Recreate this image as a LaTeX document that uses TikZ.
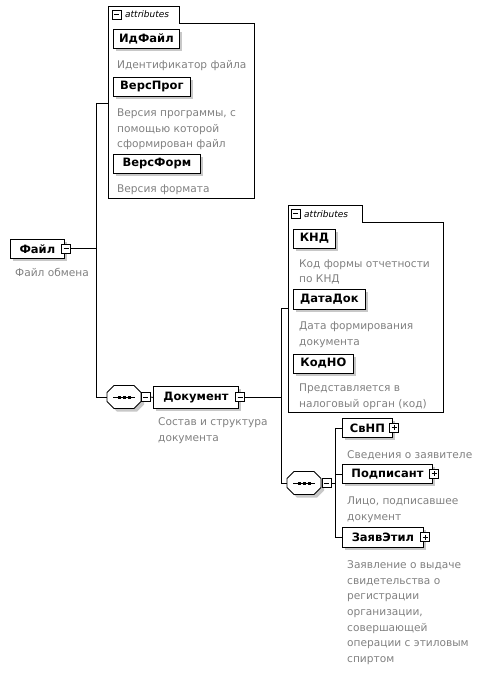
\documentclass[tikz,border=0pt]{standalone}
\usepackage{fontspec}
\setmainfont{DejaVu Sans}
\usetikzlibrary{shadows}
\definecolor{desctext}{RGB}{128,128,128}
\definecolor{shadowgray}{RGB}{200,200,200}
\tikzset{
  elem/.style={draw, fill=white, line width=0.8pt, anchor=north west, inner sep=0pt,
    general shadow={fill=shadowgray, shadow xshift=3pt, shadow yshift=-3pt},
    font=\fontsize{11.5}{13}\selectfont\bfseries},
  desc/.style={text=desctext, anchor=base west, inner sep=0pt, align=left,
    font=\fontsize{10.6}{15.7}\selectfont},
  togglebox/.style={draw, fill=white, line width=0.6pt, minimum size=9pt, inner sep=0pt},
  tminus/.style={togglebox, path picture={\draw[line width=0.6pt]
    ([xshift=2pt]path picture bounding box.west) -- ([xshift=-2pt]path picture bounding box.east);}},
  tplus/.style={togglebox, path picture={\draw[line width=0.6pt]
    ([xshift=2pt]path picture bounding box.west) -- ([xshift=-2pt]path picture bounding box.east)
    ([yshift=-2pt]path picture bounding box.north) -- ([yshift=2pt]path picture bounding box.south);}},
  conn/.style={line width=0.8pt},
  attrtext/.style={font=\fontsize{9}{11}\selectfont\itshape, anchor=base west, inner sep=0pt},
}
\newcommand\seqsym[3]{%
  \begin{scope}[shift={(#2+3,#3+3)}]
    \fill[shadowgray] (-10,-11.5) -- (10,-11.5) -- (17,-4.5) -- (17,4.5) -- (10,11.5) -- (-10,11.5) -- (-17,4.5) -- (-17,-4.5) -- cycle;
  \end{scope}
  \begin{scope}[shift={(#2,#3)}]
    \draw[fill=white, line width=0.8pt] (-10,-11.5) -- (10,-11.5) -- (17,-4.5) -- (17,4.5) -- (10,11.5) -- (-10,11.5) -- (-17,4.5) -- (-17,-4.5) -- cycle;
    \draw[line width=0.8pt] (-11,0) -- (11,0);
    \fill (-6.5,-1.5) rectangle (-3.5,1.5);
    \fill (-1.5,-1.5) rectangle (1.5,1.5);
    \fill (3.5,-1.5) rectangle (6.5,1.5);
  \end{scope}
  \node[minimum width=34pt, minimum height=23pt, inner sep=0pt] (#1) at (#2,#3) {};
}
\begin{document}
\begin{tikzpicture}[x=1pt,y=-1pt]
\useasboundingbox (0,0) rectangle (489,679);

% ---------- attributes box A ----------
\node[minimum width=146pt, minimum height=192pt, inner sep=0pt, anchor=north west] (attrA) at (108,6) {};
\draw[line width=0.8pt] (108,6) -- (179,6) -- (179,23) -- (254,23) -- (254,198) -- (108,198) -- cycle;
\node[tminus] (attrAtog) at (116.5,14.5) {};
\node[attrtext] (attrAlbl) at (125,18) {attributes};

\node[elem, minimum width=66pt, minimum height=19pt] (idfile) at (113,29) {ИдФайл};
\node[desc] (idfiled) at (117,69) {Идентификатор файла};
\node[elem, minimum width=77pt, minimum height=19pt] (versprog) at (113,77) {ВерсПрог};
\node[desc] (versprogd) at (117,148) {Версия программы, с\\помощью которой\\сформирован файл};
\node[elem, minimum width=87pt, minimum height=19pt] (versform) at (113,154) {ВерсФорм};
\node[desc] (versformd) at (117,193) {Версия формата};

% ---------- root ----------
\node[elem, minimum width=54pt, minimum height=19pt] (file) at (10,239) {Файл\hspace{5pt}};
\node[tminus] (filetog) at (66,248.5) {};
\node[desc] (filed) at (15,276) {Файл обмена};

\coordinate (j1top) at (96,103);
\coordinate (j1bot) at (96,397);
\draw[conn] (filetog.east) -- (filetog.east -| j1top);
\draw[conn] (j1top) -- (j1bot);
\draw[conn] (j1top) -- (attrA.west |- j1top);

% ---------- sequence 1 ----------
\seqsym{seq1}{124}{397}
\node[tminus] (seq1tog) at (145.5,397) {};
\draw[conn] (j1bot) -- (seq1.west);

\node[elem, minimum width=85pt, minimum height=22pt] (doc) at (153,386) {Документ\hspace{6pt}};
\node[tminus] (doctog) at (240,397) {};
\node[desc] (docd) at (158,441.5) {Состав и структура\\документа};
\draw[conn] (seq1tog.east) -- (doc.west);

\coordinate (j2top) at (281,308);
\coordinate (j2bot) at (281,483);
\draw[conn] (doctog.east) -- (doctog.east -| j2top);
\draw[conn] (j2top) -- (j2bot);

% ---------- attributes box B ----------
\node[minimum width=155pt, minimum height=207pt, inner sep=0pt, anchor=north west] (attrB) at (288,205) {};
\draw[line width=0.8pt] (288,205) -- (362,205) -- (362,222) -- (443,222) -- (443,412) -- (288,412) -- cycle;
\node[tminus] (attrBtog) at (295.5,213.5) {};
\node[attrtext] (attrBlbl) at (304,217) {attributes};
\draw[conn] (j2top) -- (attrB.west |- j2top);

\node[elem, minimum width=42pt, minimum height=19pt] (knd) at (293,228.5) {КНД};
\node[desc] (kndd) at (299,282.7) {Код формы отчетности\\по КНД};
\node[elem, minimum width=72pt, minimum height=20pt] (datadok) at (293,289) {ДатаДок};
\node[desc] (datadokd) at (299,345.2) {Дата формирования\\документа};
\node[elem, minimum width=60pt, minimum height=19pt] (kodno) at (293,353.5) {КодНО};
\node[desc] (kodnod) at (299,407.5) {Представляется в\\налоговый орган (код)};

% ---------- sequence 2 ----------
\seqsym{seq2}{304}{483}
\node[tminus] (seq2tog) at (326.5,483) {};
\draw[conn] (j2bot) -- (seq2.west);

\coordinate (j3) at (335,483);
\draw[conn] (seq2tog.east) -- (j3);

\node[elem, minimum width=50pt, minimum height=19pt] (svnp) at (342,418) {СвНП\hspace{5pt}};
\node[tplus] (svnptog) at (394,427.5) {};
\node[desc] (svnpd) at (347,458) {Сведения о заявителе};
\node[elem, minimum width=90pt, minimum height=19pt] (podp) at (342,464) {Подписант\hspace{5pt}};
\node[tplus] (podptog) at (434,473.5) {};
\node[desc] (podpd) at (347,520.5) {Лицо, подписавшее\\документ};
\node[elem, minimum width=81pt, minimum height=20pt] (zayav) at (342,527) {ЗаявЭтил\hspace{5pt}};
\node[tplus] (zayavtog) at (425,537) {};
\node[desc] (zayavd) at (347,662.5) {Заявление о выдаче\\свидетельства о\\регистрации\\организации,\\совершающей\\операции с этиловым\\спиртом};

\draw[conn] (j3 |- svnp.west) -- (j3 |- zayav.west);
\draw[conn] (j3 |- svnp.west) -- (svnp.west);
\draw[conn] (j3 |- podp.west) -- (podp.west);
\draw[conn] (j3 |- zayav.west) -- (zayav.west);
\end{tikzpicture}
\end{document}
